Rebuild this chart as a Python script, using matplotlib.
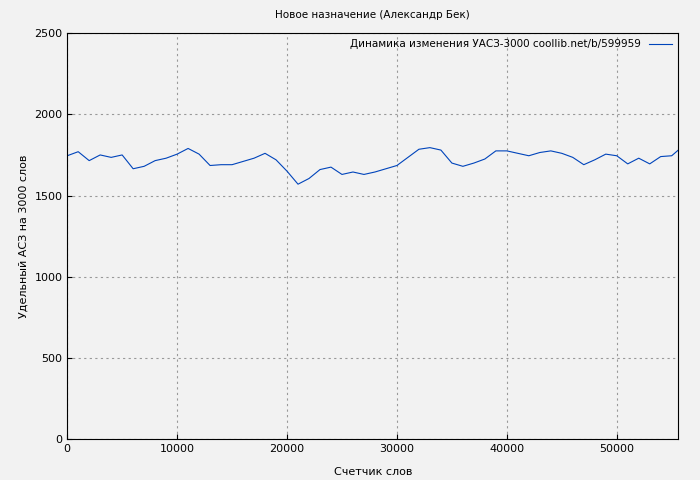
import matplotlib
matplotlib.use('Agg')
import matplotlib.pyplot as plt

words = list(range(0, 56000, 1000)) + [55600]
acz = [1745, 1770, 1715, 1750, 1735, 1750, 1665, 1680, 1715, 1730,
       1755, 1790, 1755, 1685, 1690, 1690, 1710, 1730, 1760, 1720,
       1650, 1570, 1605, 1660, 1675, 1630, 1645, 1630, 1645, 1665,
       1685, 1735, 1785, 1795, 1780, 1700, 1680, 1700, 1725, 1775,
       1775, 1760, 1745, 1765, 1775, 1760, 1735, 1690, 1720, 1755,
       1745, 1695, 1730, 1695, 1740, 1745, 1780]

fig = plt.figure(figsize=(7, 4.8), dpi=100, facecolor='#f2f2f2')
ax = fig.add_axes([0.096, 0.085, 0.873, 0.846])
ax.set_facecolor('#f2f2f2')
ax.plot(words, acz, color='#0044bb', lw=0.8,
        label='Динамика изменения УАСЗ-3000 coollib.net/b/599959')
ax.set_xlim(0, 55600)
ax.set_ylim(0, 2500)
ax.set_xticks(range(0, 55001, 10000))
ax.set_yticks(range(0, 2501, 500))
ax.grid(True, color='#999999', ls=(0, (2, 3)), lw=0.8)
ax.tick_params(labelsize=8, direction='in')
ax.set_title('Новое назначение (Александр Бек)', fontsize=7.5, pad=11)
ax.set_xlabel('Счетчик слов', fontsize=8, labelpad=9)
ax.set_ylabel('Удельный АСЗ на 3000 слов', fontsize=8)
ax.legend(loc='upper right', fontsize=7.5, frameon=False, markerfirst=False,
          borderaxespad=0.2, handlelength=2.2)
plt.savefig('out.png', facecolor=fig.get_facecolor())
